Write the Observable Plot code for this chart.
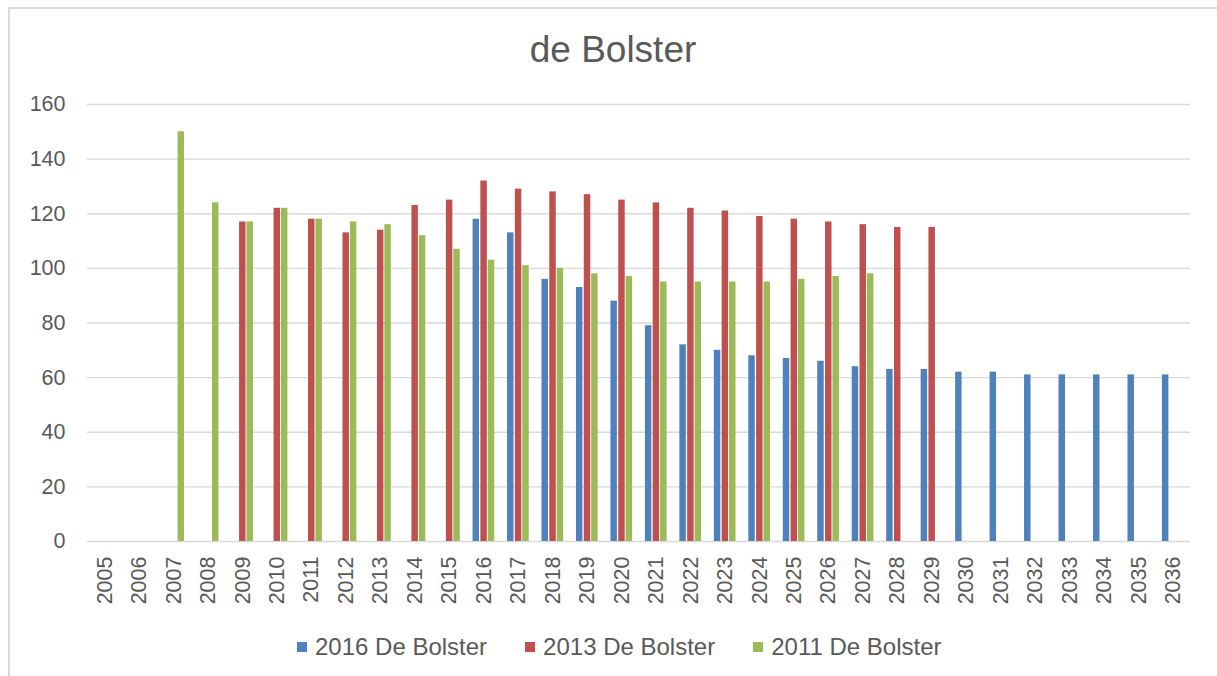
<!DOCTYPE html>
<html>
<head>
<meta charset="utf-8">
<script src="https://cdn.jsdelivr.net/npm/d3@7"></script>
<script src="https://cdn.jsdelivr.net/npm/@observablehq/plot@0.6"></script>
<style>
  html, body { margin: 0; padding: 0; background: #fff; }
  body { width: 1217px; height: 676px; position: relative; overflow: hidden;
         font-family: "Liberation Sans", Arial, sans-serif; color: #595959; }
  #frame { position: absolute; left: 8px; top: 7px; width: 1230px; height: 690px;
           border: 2px solid #dadada; box-sizing: border-box; }
  #title { position: absolute; left: 0; width: 1226px; top: 28px; text-align: center;
           font-size: 37px; line-height: 44px; color: #595959; }
  #chart { position: absolute; left: 0; top: 90px; }
  #legend { position: absolute; left: 297px; top: 634px; display: flex; gap: 38px;
            font-size: 24px; line-height: 26px; color: #595959; white-space: nowrap; }
  .item { display: flex; align-items: center; gap: 8px; }
  .sw { width: 10px; height: 10px; display: inline-block; }
</style>
</head>
<body>
<div id="frame"></div>
<div id="title">de Bolster</div>
<div id="chart"></div>
<div id="legend"></div>
<script>
// Categories (years)
const years = ["2005","2006","2007","2008","2009","2010","2011","2012","2013","2014","2015","2016",
  "2017","2018","2019","2020","2021","2022","2023","2024","2025","2026","2027","2028","2029","2030",
  "2031","2032","2033","2034","2035","2036"];

// Series names
const seriesNames = ["2016 De Bolster", "2013 De Bolster", "2011 De Bolster"];
const seriesColors = ["#4f81bd", "#c0504d", "#9bbb59"];

// Series values, aligned with years (null = no bar)
const values2016 = [null,null,null,null,null,null,null,null,null,null,null,118,
  113,96,93,88,79,72,70,68,67,66,64,63,63,62,
  62,61,61,61,61,61];
const values2013 = [null,null,null,null,117,122,118,113,114,123,125,132,
  129,128,127,125,124,122,121,119,118,117,116,115,115,null,
  null,null,null,null,null,null];
const values2011 = [null,null,150,124,117,122,118,117,116,112,107,103,
  101,100,98,97,95,95,95,95,96,97,98,null,null,null,
  null,null,null,null,null,null];

// Y tick values
const yTicks = [0, 20, 40, 60, 80, 100, 120, 140, 160];

const seriesValues = [values2016, values2013, values2011];
const rows = seriesValues.map((vals, si) =>
  years.map((y, i) => ({year: y, series: seriesNames[si], value: vals[i]}))
       .filter(d => d.value != null));

const offsets = [-7.6, 0.2, 7.6];
const inset = 14;

const chart = Plot.plot({
  width: 1217,
  height: 530,
  marginLeft: 87,
  marginRight: 27,
  marginTop: 14,
  marginBottom: 79,
  style: {fontFamily: '"Liberation Sans", Arial, sans-serif', fontSize: "21.5px", color: "#595959", background: "transparent"},
  x: {domain: years, padding: 0, round: false, label: null, tickSize: 0, tickPadding: 15, tickRotate: -90},
  y: {domain: [0, 160], ticks: yTicks, tickSize: 0, tickPadding: 22, label: null},
  color: {domain: seriesNames, range: seriesColors},
  marks: [
    Plot.ruleY(yTicks, {stroke: "#d9d9d9", strokeWidth: 1.3}),
    ...rows.map((r, si) => Plot.barY(r, {
      x: "year", y: "value", fill: "series",
      insetLeft: inset, insetRight: inset, dx: offsets[si]
    }))
  ]
});
chart.querySelectorAll("text").forEach(t => t.setAttribute("fill", "#595959"));
document.getElementById("chart").appendChild(chart);

// Legend
const legend = document.getElementById("legend");
seriesNames.forEach((s, i) => {
  const it = document.createElement("div");
  it.className = "item";
  const sw = document.createElement("span");
  sw.className = "sw";
  sw.style.background = seriesColors[i];
  const tx = document.createElement("span");
  tx.textContent = s;
  it.appendChild(sw); it.appendChild(tx);
  legend.appendChild(it);
});
</script>
</body>
</html>
